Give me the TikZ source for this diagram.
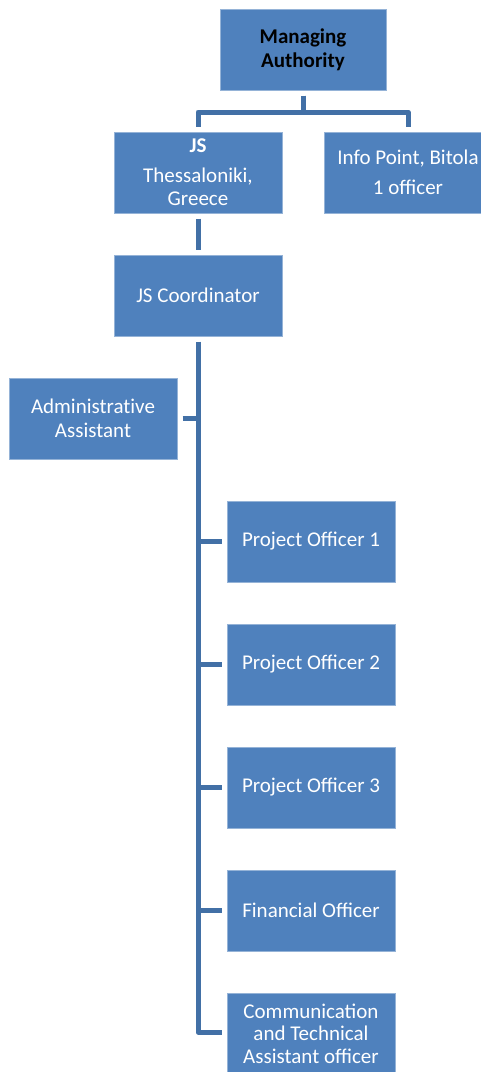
\documentclass[tikz,border=0pt]{standalone}
\usepackage{fontspec}
\setmainfont{Carlito}
\definecolor{boxblue}{RGB}{79,129,189}
\definecolor{boxedge}{RGB}{149,179,215}
\definecolor{linkblue}{RGB}{66,112,166}
\tikzset{
  orgbox/.style={draw=boxedge,line width=0.8bp,fill=boxblue,text=white,align=center,
    minimum width=168bp,minimum height=81bp,inner sep=0pt,outer sep=5.5bp,
    font=\fontsize{21bp}{23.5bp}\selectfont},
  link/.style={linkblue,line width=5bp,line join=round},
}
\begin{document}
\begin{tikzpicture}[x=1bp,y=-1bp]
\useasboundingbox (0,0) rectangle (481,1072);
%%
\node (ma) at (303bp,-49.5bp) [orgbox,minimum width=166bp,text=black,font=\fontsize{21bp}{24bp}\selectfont\bfseries] {Managing\\Authority};
  \node (js) at (198bp,-172.5bp) [orgbox] {\textbf{JS}\\[6bp]Thessaloniki,\\Greece};
  \node (info) at (408bp,-172.5bp) [orgbox] {Info Point, Bitola\\[7bp]1 officer};
  \node (coord) at (198bp,-295.5bp) [orgbox] {JS Coordinator};
  \node (admin) at (93bp,-418.5bp) [orgbox] {Administrat\kern0pt ive\\Assistant};
  \node (po1) at (311bp,-541.5bp) [orgbox] {Project Officer 1};
  \node (po2) at (311bp,-664.5bp) [orgbox] {Project Officer 2};
  \node (po3) at (311bp,-787.5bp) [orgbox] {Project Officer 3};
  \node (fin) at (311bp,-910.5bp) [orgbox] {Financial Officer};
  \node (comm) at (311bp,-1033.5bp) [orgbox,font=\fontsize{21bp}{22.5bp}\selectfont] {Communication\\and Technical\\Assistant officer};
  \draw [link] (ma.south) -- ++(0bp,-16.5bp) -| (js.north);
  \draw [link] (ma.south) -- ++(0bp,-16.5bp) -| (info.north);
  \draw [link] (js.south) -- (coord.north);
  \draw [link] (coord.south) |- ([yshift=1.5bp]comm.west);
  \draw [link] (admin.east) -- (admin.east -| coord.south);
  \draw [link] (po1.west) -- (po1.west -| coord.south);
  \draw [link] (po2.west) -- (po2.west -| coord.south);
  \draw [link] (po3.west) -- (po3.west -| coord.south);
  \draw [link] (fin.west) -- (fin.west -| coord.south);
%
\end{tikzpicture}
\end{document}
